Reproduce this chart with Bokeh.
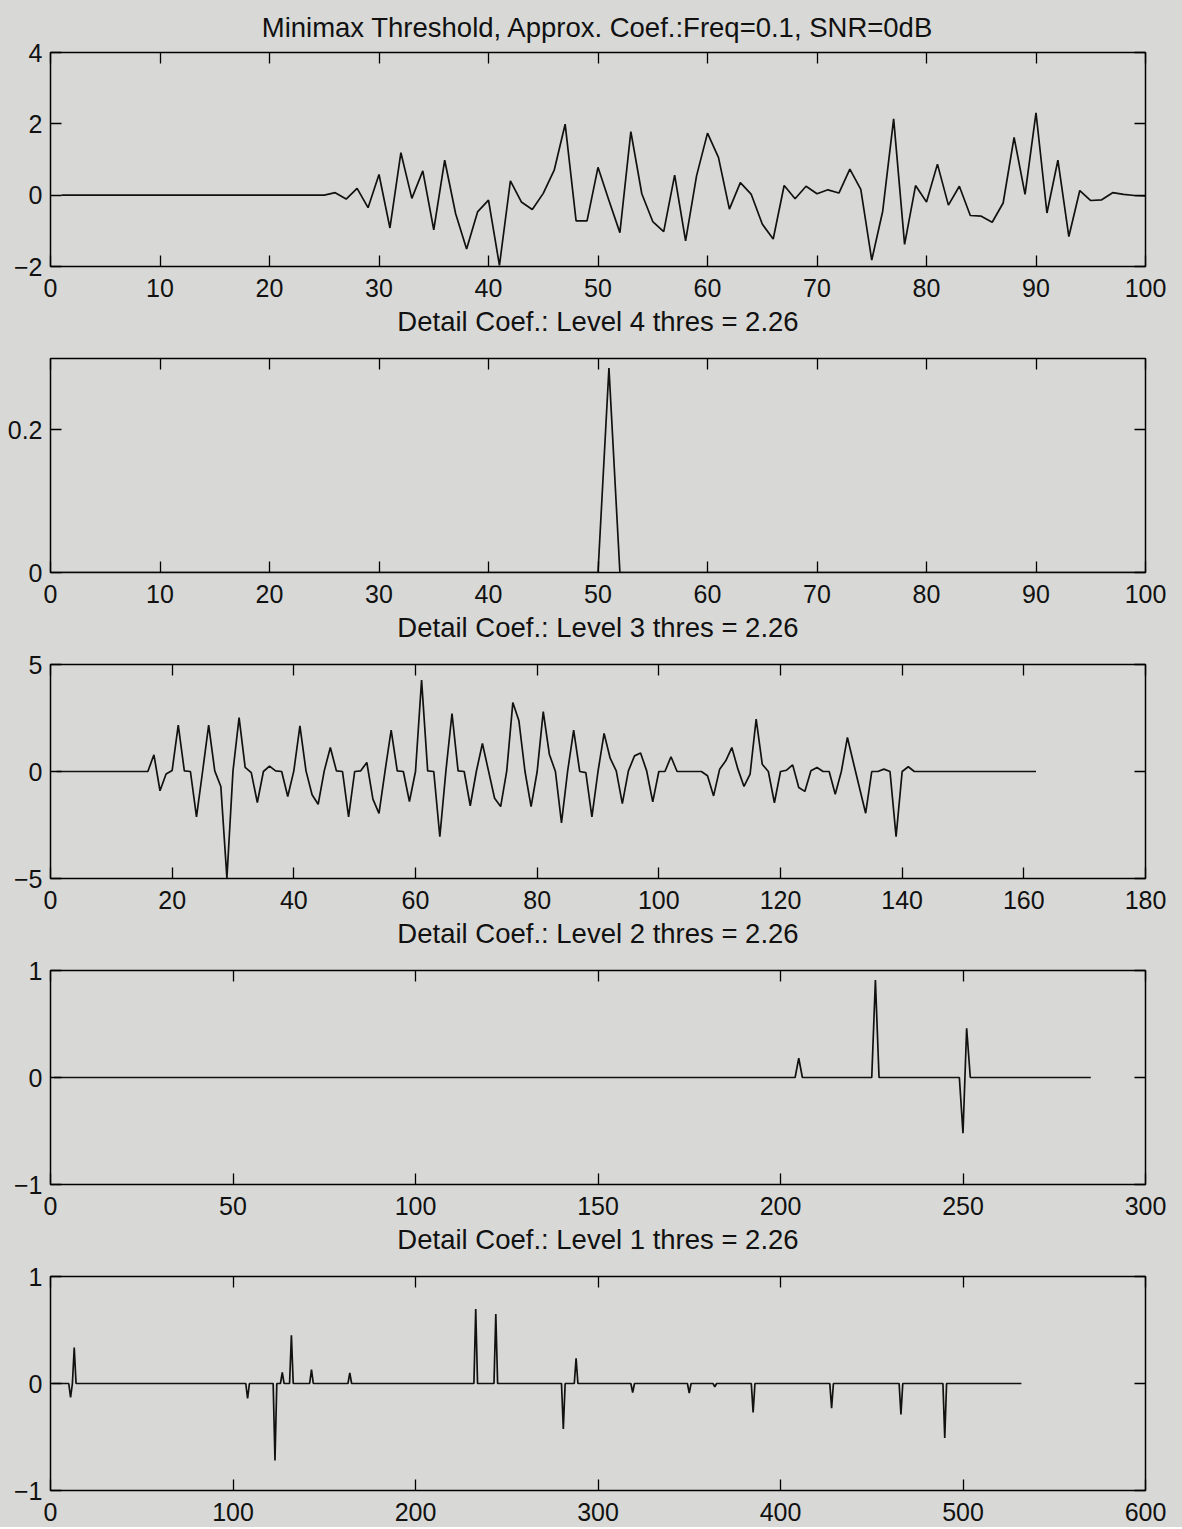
from bokeh.plotting import figure
from bokeh.layouts import column
from bokeh.models import LinearAxis, FixedTicker, Range1d
from bokeh.embed import file_html
from bokeh.resources import INLINE

# ---------------- data ----------------
# Panel 1: approximation coefficients (x = 1..100)
approx_vals = [0.0] * 25 + [
    0.07, -0.11, 0.19, -0.35, 0.58, -0.92, 1.19, -0.09, 0.68, -0.97,
    0.98, -0.52, -1.51, -0.47, -0.14, -1.97, 0.40, -0.19, -0.40, 0.05,
    0.70, 1.99, -0.72, -0.72, 0.78, -0.15, -1.05, 1.78, 0.04, -0.74,
    -1.02, 0.56, -1.28, 0.54, 1.74, 1.06, -0.39, 0.35, 0.02, -0.81,
    -1.23, 0.27, -0.10, 0.25, 0.04, 0.15, 0.06, 0.73, 0.16, -1.82,
    -0.45, 2.14, -1.38, 0.27, -0.19, 0.87, -0.28, 0.25, -0.57, -0.59,
    -0.76, -0.22, 1.62, 0.02, 2.31, -0.50, 0.98, -1.16, 0.13, -0.15,
    -0.13, 0.07, 0.02, -0.01, -0.02]

# Panel 2: level 4 detail (length 100, sparse)
d4_len = 100
d4_idx = [51]
d4_val = [0.2865]

# Panel 3: level 3 detail (x = 1..162)
d3_vals = [0.0] * 15 + [
    0.0, 0.78, -0.90, -0.12, 0.05, 2.17, 0.03, 0.0, -2.12, 0.0,
    2.17, 0.03, -0.70, -4.98, 0.03, 2.52, 0.19, -0.05, -1.45, 0.0,
    0.25, 0.03, 0.0, -1.17, 0.03, 2.13, 0.03, -1.09, -1.53, 0.03,
    1.12, 0.03, 0.0, -2.12, 0.0, 0.03, 0.42, -1.29, -1.96, 0.03,
    1.93, 0.03, 0.0, -1.40, 0.0, 4.27, 0.03, 0.0, -3.05, 0.03,
    2.71, 0.03, 0.0, -1.60, 0.0, 1.31, 0.03, -1.25, -1.64, 0.03,
    3.22, 2.37, 0.0, -1.64, 0.0, 2.80, 0.81, 0.0, -2.40, 0.0,
    1.93, 0.0, -0.05, -2.12, 0.0, 1.78, 0.62, 0.03, -1.50, 0.03,
    0.73, 0.86, 0.03, -1.42, 0.0, 0.0, 0.69, 0.0, 0.0, 0.0,
    0.0, 0.0, -0.20, -1.14, 0.11, 0.50, 1.12, 0.11, -0.70, -0.12,
    2.45, 0.34, 0.0, -1.46, 0.0, 0.06, 0.31, -0.75, -0.93, 0.03,
    0.19, 0.0, 0.0, -1.06, 0.0, 1.59, 0.40, -0.78, -1.95, 0.0,
    0.0, 0.11, 0.0, -3.04, 0.0, 0.22] + [0.0] * 21

# Panel 4: level 2 detail (length 285, sparse)
d2_len = 285
d2_idx = [205, 226, 250, 251]
d2_val = [0.18, 0.91, -0.52, 0.46]

# Panel 5: level 1 detail (length 532, sparse)
d1_len = 532
d1_idx = [11, 13, 108, 123, 127, 132, 143, 164, 233, 244, 281, 288,
          319, 350, 364, 385, 428, 466, 490]
d1_val = [-0.13, 0.335, -0.14, -0.72, 0.105, 0.45, 0.13, 0.10, 0.695, 0.65,
          -0.425, 0.235, -0.084, -0.09, -0.03, -0.27, -0.23, -0.29, -0.51]

titles = [
    "Minimax Threshold, Approx. Coef.:Freq=0.1, SNR=0dB",
    "Detail Coef.: Level 4 thres = 2.26",
    "Detail Coef.: Level 3 thres = 2.26",
    "Detail Coef.: Level 2 thres = 2.26",
    "Detail Coef.: Level 1 thres = 2.26",
]
x_ranges = [(0, 100), (0, 100), (0, 180), (0, 300), (0, 600)]
x_ticks = [list(range(0, 101, 10)), list(range(0, 101, 10)),
           list(range(0, 181, 20)), list(range(0, 301, 50)),
           list(range(0, 601, 100))]
y_ranges = [(-2, 4), (0, 0.3), (-5, 5), (-1, 1), (-1, 1)]
y_ticks = [[-2, 0, 2, 4], [0, 0.2], [-5, 0, 5], [-1, 0, 1], [-1, 0, 1]]
y_labels = [["\u22122", "0", "2", "4"], ["0", "0.2"], ["\u22125", "0", "5"],
            ["\u22121", "0", "1"], ["\u22121", "0", "1"]]


def sparse_series(n, idx, val):
    ys = [0.0] * n
    for i, v in zip(idx, val):
        ys[i - 1] = v
    return ys


series = [
    approx_vals,
    sparse_series(d4_len, d4_idx, d4_val),
    d3_vals,
    sparse_series(d2_len, d2_idx, d2_val),
    sparse_series(d1_len, d1_idx, d1_val),
]

BG = "#d8d9d6"
FONT = "Liberation Sans"
FS = "25px"
TFS = "27.5px"
INK = "#111111"

figs = []
for k in range(5):
    first = (k == 0)
    last = (k == 4)
    p = figure(frame_width=1095, frame_height=214,
               title=titles[0] if first else None,
               min_border_left=50, min_border_right=37,
               min_border_top=52 if first else 12,
               min_border_bottom=37 if last else 80,
               x_range=Range1d(*x_ranges[k]), y_range=Range1d(*y_ranges[k]),
               output_backend="svg", toolbar_location=None,
               background_fill_color=BG, border_fill_color=BG,
               x_axis_location=None, y_axis_location=None)
    p.grid.visible = False
    p.outline_line_color = "black"
    p.outline_line_width = 1.5
    p.outline_line_alpha = 1.0

    if first:
        p.title.align = "center"
        p.title.text_font = FONT
        p.title.text_font_size = TFS
        p.title.text_font_style = "normal"
        p.title.text_color = INK
        p.title.standoff = 19

    ys = series[k]
    xs = list(range(1, len(ys) + 1))
    p.line(xs, ys, line_color=INK, line_width=1.7)

    yl = {t: l for t, l in zip(y_ticks[k], y_labels[k])}
    for side, labelled in (("below", True), ("above", False)):
        ax = LinearAxis(ticker=FixedTicker(ticks=x_ticks[k]))
        ax.axis_line_color = None
        ax.major_tick_in = 11
        ax.major_tick_out = 0
        ax.major_tick_line_width = 1.3
        ax.minor_tick_line_color = None
        if labelled:
            ax.major_label_text_font = FONT
            ax.major_label_text_font_size = FS
            ax.major_label_text_color = INK
            ax.major_label_standoff = 12
            if not last:
                # title of the next panel sits just under this axis
                ax.axis_label = titles[k + 1]
                ax.axis_label_text_font = FONT
                ax.axis_label_text_font_size = TFS
                ax.axis_label_text_font_style = "normal"
                ax.axis_label_text_color = INK
                ax.axis_label_standoff = 6
        else:
            ax.major_label_text_font_size = "1px"
            ax.major_label_text_color = None
            ax.major_label_standoff = 0
        p.add_layout(ax, side)
    for side, labelled in (("left", True), ("right", False)):
        ax = LinearAxis(ticker=FixedTicker(ticks=y_ticks[k]))
        ax.axis_line_color = None
        ax.major_tick_in = 11
        ax.major_tick_out = 0
        ax.major_tick_line_width = 1.3
        ax.minor_tick_line_color = None
        if labelled:
            ax.major_label_text_font = FONT
            ax.major_label_text_font_size = FS
            ax.major_label_text_color = INK
            ax.major_label_standoff = 8
            ax.major_label_overrides = yl
        else:
            ax.major_label_text_font_size = "1px"
            ax.major_label_text_color = None
            ax.major_label_standoff = 0
        p.add_layout(ax, side)
    figs.append(p)

p = column(*figs, spacing=0, styles={"background-color": BG})
open("out.html", "w").write(file_html(p, INLINE))
